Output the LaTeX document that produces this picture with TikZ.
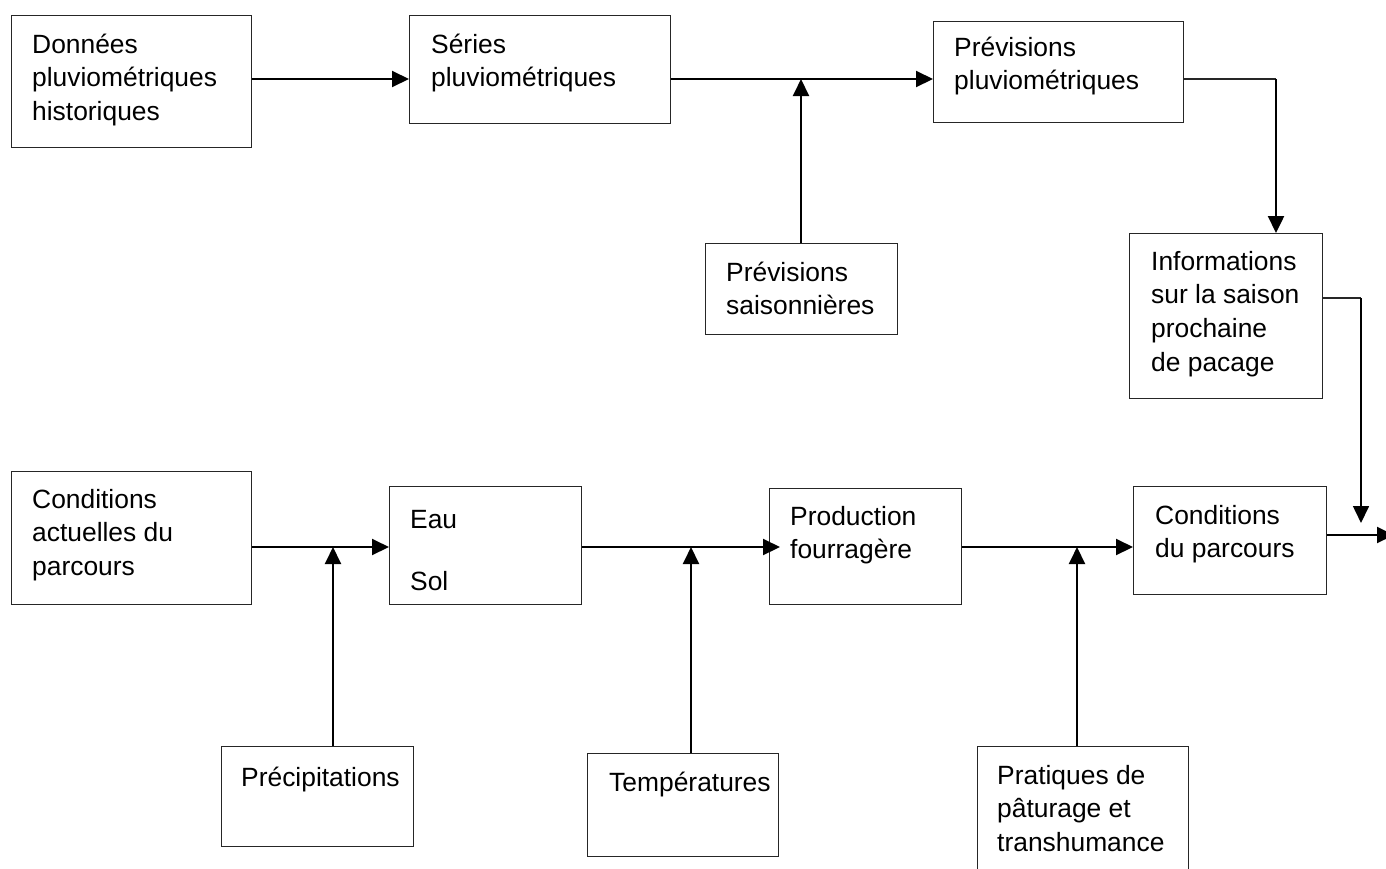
\documentclass[tikz,border=0pt]{standalone}
\usepackage{fontspec}
\setmainfont{Liberation Sans}
\usetikzlibrary{arrows.meta,calc}
\newcommand\btext[1]{\parbox[t]{300pt}{#1}}
\begin{document}
\begin{tikzpicture}[x=1pt,y=-1pt,
  blk/.style={draw=black!85,line width=1.1pt,rectangle,inner sep=0pt,anchor=north west},
  txt/.style={anchor=base west,inner sep=0pt,font=\fontsize{26.4}{33.8}\selectfont},
  arr/.style={line width=2pt,-{Triangle[length=17pt,width=16pt]}},
  thin/.style={line width=1.1pt,draw=black!85}]
\clip (0,0) rectangle (1386,868);
\fill[white] (0,0) rectangle (1386,868);

% upper chain
\node[blk,minimum width=240pt,minimum height=132pt] (b1) at (11,15) {};
\node[blk,minimum width=261pt,minimum height=108pt] (b2) at (409,15) {};
\node[blk,minimum width=250pt,minimum height=101pt] (b3) at (933,21) {};
\node[blk,minimum width=192pt,minimum height=91pt]  (b4) at (705,243) {};
\node[blk,minimum width=193pt,minimum height=165pt] (b5) at (1129,233) {};
% lower chain
\node[blk,minimum width=240pt,minimum height=133pt] (b6) at (11,471) {};
\node[blk,minimum width=192pt,minimum height=118pt] (b7) at (389,486) {};
\node[blk,minimum width=192pt,minimum height=116pt] (b8) at (769,488) {};
\node[blk,minimum width=193pt,minimum height=108pt] (b9) at (1133,486) {};
\node[blk,minimum width=192pt,minimum height=100pt] (b10) at (221,746) {};
\node[blk,minimum width=191pt,minimum height=103pt] (b11) at (587,753) {};
\node[blk,minimum width=211pt,minimum height=140pt] (b12) at (977,746) {};

% labels
\node[txt] (t1) at (32,53) {\btext{Données\\pluviométriques\\historiques}};
\node[txt] (t2) at (431,53) {\btext{Séries\\pluviométriques}};
\node[txt] (t3) at (954,56) {\btext{Prévisions\\pluviométriques}};
\node[txt] (t4) at (726,281) {\btext{Prévisions\\saisonnières}};
\node[txt] (t5) at (1151,270) {\btext{Informations\\sur la saison\\prochaine\\de pacage}};
\node[txt] (t6) at (32,508) {\btext{Conditions\\actuelles du\\parcours}};
\node[txt] (t7) at (410,528) {\btext{Eau\\[29pt]Sol}};
\node[txt] (t8) at (790,525) {\btext{Production\\fourragère}};
\node[txt] (t9) at (1155,524) {\btext{Conditions\\du parcours}};
\node[txt] (t10) at (241,786) {\btext{Précipitations}};
\node[txt] (t11) at (609,791) {\btext{Températures}};
\node[txt] (t12) at (997,784) {\btext{Pratiques de\\pâturage et\\transhumance}};

% connector rows and junctions
\coordinate (rowA) at (0,79);
\coordinate (rowB) at (0,547);
\coordinate (jA) at (801,79);
\coordinate (cA) at (1276,79);
\coordinate (cB) at (1361,298);
\coordinate (cBend) at (1361,523);
\coordinate (j1) at (333,547);
\coordinate (j2) at (691,547);
\coordinate (j3) at (1077,547);
\coordinate (outC) at (1394,535);

\draw[arr] (b1.east |- rowA) -- (b2.west |- rowA);
\draw[arr] (b2.east |- rowA) -- (b3.west |- rowA);
\draw[arr] (jA |- b4.north) -- (jA);
\draw[thin] (b3.east |- cA) -- (cA);
\draw[arr,line width=2.4pt] (cA) -- (cA |- b5.north);
\draw[thin] (b5.east |- cB) -- (cB);
\draw[arr,line width=1.6pt] (cB) -- (cBend);

\draw[arr] (b6.east |- rowB) -- (b7.west |- rowB);
\draw[arr,shorten >=-11pt] (b7.east |- rowB) -- (b8.west |- rowB);
\draw[arr] (b8.east |- rowB) -- (b9.west |- rowB);
\draw[arr] (j1 |- b10.north) -- (j1);
\draw[arr] (j2 |- b11.north) -- (j2);
\draw[arr] (j3 |- b12.north) -- (j3);
\draw[arr] (b9.east |- outC) -- (outC);
\end{tikzpicture}
\end{document}
